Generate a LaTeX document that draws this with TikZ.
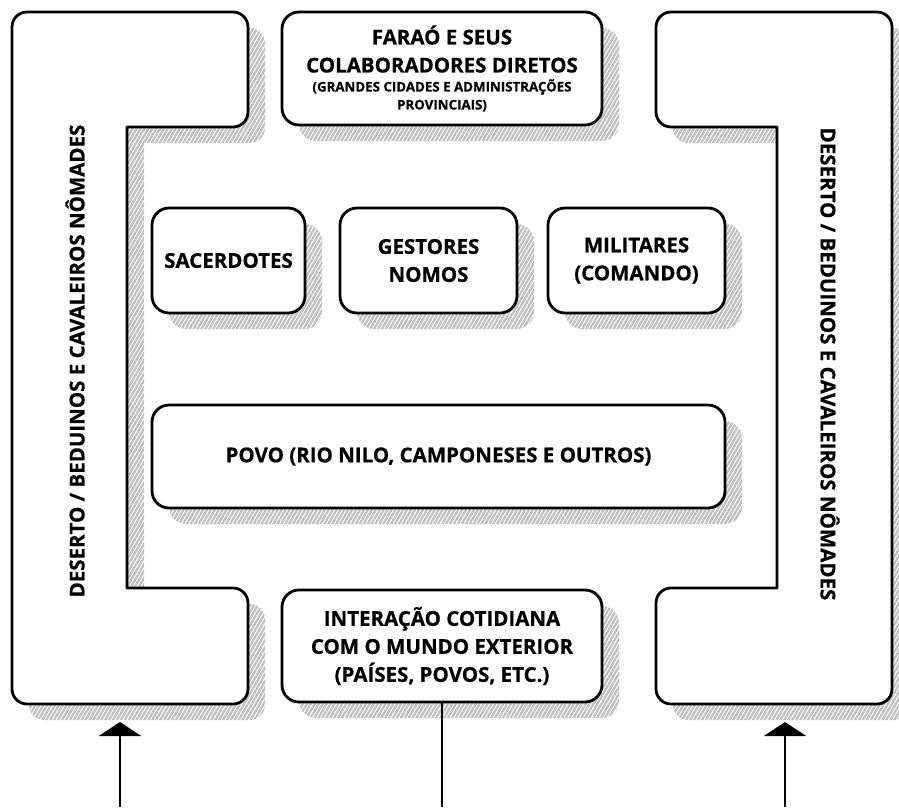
\documentclass[tikz,border=0pt]{standalone}
\usepackage{fontspec}
\setmainfont{Open Sans}[BoldFeatures={FakeBold=0.6}]
\usetikzlibrary{arrows.meta,patterns.meta}

% outline of the western desert band (a C opening to the east)
\newcommand\westband{(12,27) .. controls (12,18.7) and (18.7,12) .. (27,12)
  -- (233,12) .. controls (241.3,12) and (248,18.7) .. (248,27)
  -- (248,112) .. controls (248,120.3) and (241.3,127) .. (233,127)
  -- (127,127) -- (127,588)
  -- (233,588) .. controls (241.3,588) and (248,594.7) .. (248,603)
  -- (248,689) .. controls (248,697.3) and (241.3,704) .. (233,704)
  -- (27,704) .. controls (18.7,704) and (12,697.3) .. (12,689) -- cycle}
% outline of the eastern desert band (a C opening to the west)
\newcommand\eastband{(892,27) .. controls (892,18.7) and (885.3,12) .. (877,12)
  -- (671,12) .. controls (662.7,12) and (656,18.7) .. (656,27)
  -- (656,112) .. controls (656,120.3) and (662.7,127) .. (671,127)
  -- (777,127) -- (777,588)
  -- (671,588) .. controls (662.7,588) and (656,594.7) .. (656,603)
  -- (656,689) .. controls (656,697.3) and (662.7,704) .. (671,704)
  -- (877,704) .. controls (885.3,704) and (892,697.3) .. (892,689) -- cycle}
% smaller type for the parenthetical note
\newcommand\notefont{\fontsize{13.3}{17}\selectfont}

\tikzset{
  hatch/.style={pattern={Lines[angle=60,distance=3.4pt,line width=2.2pt]}, pattern color=black!25},
  casting/.style={preaction={draw=none, hatch, transform canvas={shift={(17pt,-16pt)}}}},
  panel/.style={draw, line width=2.8pt, line join=round, fill=white, casting},
  card/.style={panel, rounded corners=17pt, align=center, inner sep=0pt,
    font=\bfseries\fontsize{20.5}{28}\selectfont},
  bandtext/.style={font=\bfseries\fontsize{20.5}{24}\selectfont, inner sep=0pt},
  link/.style={line width=2.8pt},
  uparrow/.style={link, -{Triangle[width=42pt,length=14pt]}}
}

\begin{document}
\begin{tikzpicture}[x=1pt,y=-1pt]
  \useasboundingbox[fill=white] (0,0) rectangle (899,807);

  % desert bands on either side
  \draw[panel] \westband;
  \draw[panel] \eastband;
  \node[bandtext, rotate=90] (westtext) at (75,361) {DESERTO / BEDUINOS E CAVALEIROS NÔMADES};
  \node[bandtext, rotate=-90] (easttext) at (830,364) {DESERTO / BEDUINOS E CAVALEIROS NÔMADES};

  % the ruling centre at the top
  \node[card, minimum width=320pt, minimum height=113pt] (farao) at (442,68.5)
    {FARAÓ E SEUS\\COLABORADORES DIRETOS\\[-9pt]\notefont (GRANDES CIDADES E ADMINISTRAÇÕES\\[-10pt]\notefont PROVINCIAIS)};

  % intermediate groups
  \node[card, minimum width=153pt, minimum height=105pt] (sacer) at (228.5,260.5) {SACERDOTES};
  \node[card, minimum width=177pt, minimum height=105pt] (gestores) at (428.5,260.5) {GESTORES\\NOMOS};
  \node[card, minimum width=177pt, minimum height=105pt] (militares) at (636.5,260.5) {MILITARES\\(COMANDO)};

  % the people
  \node[card, minimum width=573pt, minimum height=103pt] (povo) at (438.5,456.5) {POVO (RIO NILO, CAMPONESES E OUTROS)};

  % contact with the outside
  \node[card, minimum width=320pt, minimum height=112pt] (inter) at (442,646)
    {INTERAÇÃO COTIDIANA\\COM O MUNDO EXTERIOR\\(PAÍSES, POVOS, ETC.)};

  % connectors along the bottom
  \coordinate (wfoot) at (120,807);
  \coordinate (whead) at (120,722);
  \coordinate (efoot) at (785,807);
  \coordinate (ehead) at (785,722);
  \coordinate (cfoot) at (442,807);
  \draw[uparrow] (wfoot) -- (whead);
  \draw[uparrow] (efoot) -- (ehead);
  \draw[link] (inter.south) -- (cfoot);
\end{tikzpicture}
\end{document}
